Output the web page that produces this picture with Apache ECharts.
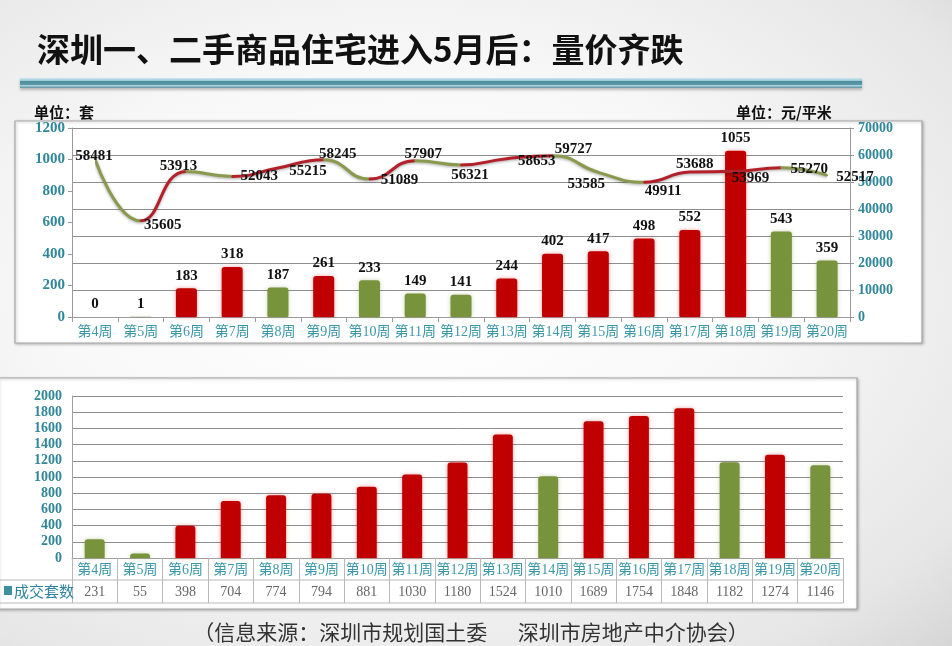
<!DOCTYPE html>
<html><head><meta charset="utf-8">
<script src="https://cdn.jsdelivr.net/npm/echarts@6/dist/echarts.min.js"></script>
<style>
html,body{margin:0;padding:0;width:952px;height:646px;overflow:hidden;}
body{background: radial-gradient(ellipse at 42% 45%, #ffffff 0%, #f8f8f8 45%, #e6e6e6 85%, #d6d6d6 100%);}
#c{width:952px;height:646px;}
</style></head>
<body><div id="c"></div>
<script>
// ---- data ----
const weeks = ['第4周','第5周','第6周','第7周','第8周','第9周','第10周','第11周','第12周','第13周','第14周','第15周','第16周','第17周','第18周','第19周','第20周'];
const topUnits = [0,1,183,318,187,261,233,149,141,244,402,417,498,552,1055,543,359];
const topUnitsUp = [0,0,1,1,0,1,0,0,0,1,1,1,1,1,1,0,0];
const topPrice = [58481,35605,53913,52043,55215,58245,51089,57907,56321,58653,59727,53585,49911,53688,53969,55270,52517];
const bottomUnits = [231,55,398,704,774,794,881,1030,1180,1524,1010,1689,1754,1848,1182,1274,1146];
const bottomUnitsUp = [0,0,1,1,1,1,1,1,1,1,0,1,1,1,0,1,0];
const leftAxisTop = {min:0, max:1200, interval:200};
const rightAxisTop = {min:0, max:70000, interval:10000};
const leftAxisBottom = {min:0, max:2000, interval:200};

// ---- styles ----
const RED = '#C00000', GREEN = '#77933C';
const LINE_RED = '#B3202A', LINE_GREEN = '#8A9A4C';
const TEAL = '#2F8799', TEAL_LIGHT = '#3A97A8';
const SERIF = "'Liberation Serif','Noto Sans CJK SC',serif";
const CJK = "'Noto Sans CJK SC',sans-serif";
const plain = v => String(v);
// label offsets (from point centre) for price labels
const priceLabelOffset = [[-1,-3],[22,4],[-8,-5],[27,0],[30,3],[14,-6],[30,1],[8,-7],[9,10],[30,2],[21,-7],[-12,12],[19,9],[5,-8],[15,7],[28,1],[28,2]];

const n = weeks.length;
const pieces = [];
for (let i = 0; i < n - 1; i++) {
  const p = {gte: i, color: topPrice[i+1] >= topPrice[i] ? LINE_RED : LINE_GREEN};
  if (i === n - 2) p.lte = i + 1; else p.lt = i + 1;
  pieces.push(p);
}

const chart = echarts.init(document.getElementById('c'));
const option = {
  animation: false,
  backgroundColor: 'transparent',
  graphic: [
    {type:'rect', z:-5, shape:{x:15,y:121,width:907,height:222}, style:{fill:'#ffffff', stroke:'#A8A8A8', lineWidth:1.2, shadowBlur:3, shadowColor:'rgba(0,0,0,0.25)', shadowOffsetX:1, shadowOffsetY:1}},
    {type:'rect', z:-5, shape:{x:-2,y:378,width:859,height:231}, style:{fill:'#ffffff', stroke:'#A8A8A8', lineWidth:1.2, shadowBlur:3, shadowColor:'rgba(0,0,0,0.25)', shadowOffsetX:1, shadowOffsetY:1}},
    {type:'text', z:10, style:{text:'深圳一、二手商品住宅进入5月后：量价齐跌', x:37, y:49, verticalAlign:'middle', fill:'#111', fontSize:33, fontWeight:'bold', fontFamily:CJK}},
    {type:'rect', z:5, shape:{x:20,y:78,width:842,height:10}, style:{
      shadowBlur:3, shadowColor:'rgba(0,0,0,0.25)', shadowOffsetY:2,
      fill:{type:'linear',x:0,y:0,x2:0,y2:1,colorStops:[
      {offset:0,color:'#CFE7EE'},{offset:0.25,color:'#9FCBD6'},{offset:0.35,color:'#4F8E9E'},{offset:0.65,color:'#5C98A7'},{offset:0.75,color:'#A9D2DC'},{offset:1,color:'#5E909C'}]}}},
    {type:'text', z:10, style:{text:'单位：套', x:34, y:112, verticalAlign:'middle', fill:'#111', fontSize:15, fontWeight:'bold', fontFamily:CJK}},
    {type:'text', z:10, style:{text:'单位：元/平米', x:736, y:112, verticalAlign:'middle', fill:'#111', fontSize:15, fontWeight:'bold', fontFamily:CJK}},
    {type:'text', z:10, style:{text:'（信息来源：深圳市规划国土委　  深圳市房地产中介协会）', x:471, y:632, align:'center', verticalAlign:'middle', fill:'#333', fontSize:21, fontFamily:CJK}},
    // table lines
    {type:'line', z:5, shape:{x1:0,y1:580,x2:843,y2:580}, style:{stroke:'#B8B8B8', lineWidth:1}},
    {type:'line', z:5, shape:{x1:0,y1:603,x2:843,y2:603}, style:{stroke:'#B8B8B8', lineWidth:1}},
    {type:'rect', z:10, shape:{x:4,y:586,width:8,height:9}, style:{fill:'#3C8F9E'}},
    {type:'text', z:10, style:{text:'成交套数', x:14, y:591, verticalAlign:'middle', fill:'#2E84A0', fontSize:15, fontFamily:CJK}}
  ],
  grid: [
    {left:72, top:128, width:778, height:189},
    {left:72, top:396, width:771, height:162}
  ],
  visualMap: [{type:'piecewise', show:false, dimension:0, seriesIndex:1, pieces: pieces}],
  xAxis: [
    {type:'category', gridIndex:0, data:weeks, boundaryGap:true,
     axisLine:{lineStyle:{color:'#9A9A9A'}},
     axisTick:{show:true, interval:0, length:5, lineStyle:{color:'#9A9A9A'}},
     axisLabel:{interval:0, margin:8, color:TEAL_LIGHT, fontSize:14, fontFamily:SERIF}},
    {type:'category', gridIndex:1, data:weeks, boundaryGap:true,
     axisLine:{lineStyle:{color:'#A0A0A0'}},
     axisTick:{show:true, interval:0, length:45, lineStyle:{color:'#B8B8B8'}},
     axisLabel:{interval:0, margin:5, color:TEAL_LIGHT, fontSize:14, fontFamily:SERIF}},
    {type:'category', gridIndex:1, data:bottomUnits.map(String), boundaryGap:true, position:'bottom', offset:22,
     axisLine:{show:false}, axisTick:{show:false},
     axisLabel:{interval:0, margin:5, color:'#666', fontSize:14, fontFamily:SERIF}}
  ],
  yAxis: [
    {type:'value', gridIndex:0, min:leftAxisTop.min, max:leftAxisTop.max, interval:leftAxisTop.interval,
     axisLine:{show:true, lineStyle:{color:'#9A9A9A'}}, axisTick:{show:true, length:4, lineStyle:{color:'#9A9A9A'}},
     splitLine:{show:false},
     axisLabel:{formatter:plain, color:TEAL, fontSize:15, fontWeight:'bold', fontFamily:SERIF, margin:7}},
    {type:'value', gridIndex:0, position:'right', min:rightAxisTop.min, max:rightAxisTop.max, interval:rightAxisTop.interval,
     axisLine:{show:true, lineStyle:{color:'#9A9A9A'}}, axisTick:{show:true, length:4, lineStyle:{color:'#9A9A9A'}},
     splitLine:{show:true, lineStyle:{color:'#8E8E8E', width:1}},
     axisLabel:{formatter:plain, color:TEAL, fontSize:14, fontWeight:'bold', fontFamily:SERIF, margin:8}},
    {type:'value', gridIndex:1, min:leftAxisBottom.min, max:leftAxisBottom.max, interval:leftAxisBottom.interval,
     axisLine:{show:true, lineStyle:{color:'#A0A0A0'}}, axisTick:{show:false},
     splitLine:{show:true, lineStyle:{color:'#8E8E8E', width:1}},
     axisLabel:{formatter:plain, color:TEAL, fontSize:14, fontWeight:'bold', fontFamily:SERIF, margin:10}}
  ],
  series: [
    {type:'bar', xAxisIndex:0, yAxisIndex:0, barWidth:'46%', z:3,
     data: topUnits.map((v,i)=>({value:v, itemStyle:{
        color: topUnitsUp[i] ? RED : GREEN,
        shadowBlur:4, shadowColor: topUnitsUp[i] ? 'rgba(210,0,0,0.35)' : 'rgba(110,130,50,0.35)'}})),
     itemStyle:{borderRadius:[3,3,1,1]},
     label:{show:true, position:'top', distance:5, color:'#111', fontSize:15, fontWeight:'bold', fontFamily:SERIF}},
    {type:'line', xAxisIndex:0, yAxisIndex:1, smooth:true, symbol:'circle', symbolSize:2, z:4,
     lineStyle:{width:3, shadowBlur:3, shadowColor:'rgba(0,0,0,0.35)', shadowOffsetY:1},
     data: topPrice.map((v,i)=>({value:v, label:{offset:priceLabelOffset[i]}})),
     label:{show:true, position:'inside', color:'#111', fontSize:15, fontWeight:'bold', fontFamily:SERIF}},
    {type:'bar', xAxisIndex:1, yAxisIndex:2, barWidth:'44%', z:3,
     data: bottomUnits.map((v,i)=>({value:v, itemStyle:{
        color: bottomUnitsUp[i] ? RED : GREEN,
        shadowBlur:4, shadowColor: bottomUnitsUp[i] ? 'rgba(210,0,0,0.35)' : 'rgba(110,130,50,0.35)'}})),
     itemStyle:{borderRadius:[3,3,0,0]}}
  ]
};
chart.setOption(option);
</script></body></html>
